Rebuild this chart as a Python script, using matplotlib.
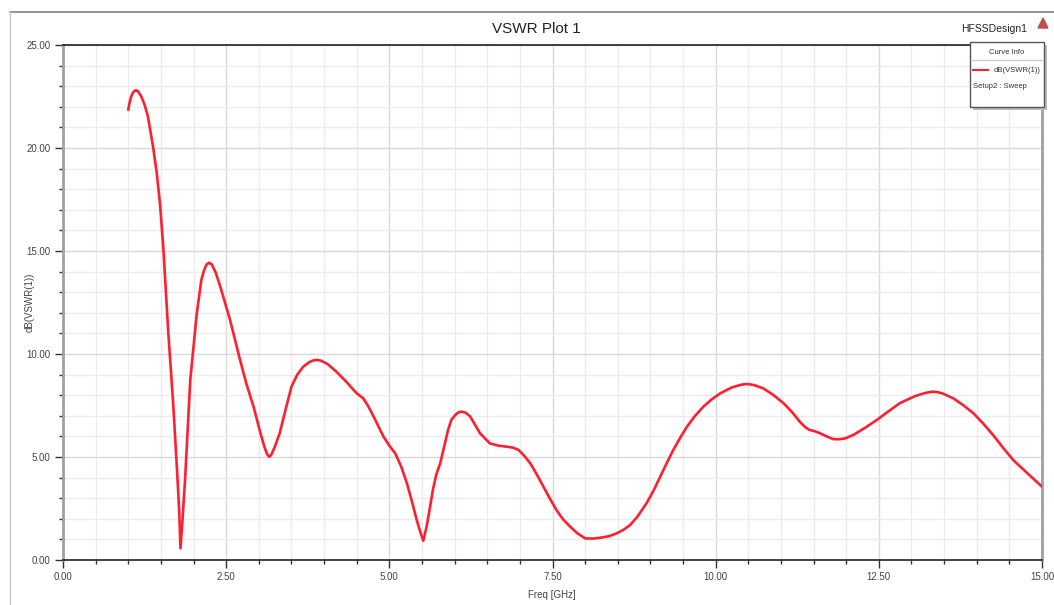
import matplotlib
matplotlib.use("Agg")
import matplotlib.pyplot as plt
from matplotlib.ticker import MultipleLocator, FormatStrFormatter
from matplotlib.patches import Rectangle, Polygon
from matplotlib.lines import Line2D

freq_ghz = [1.00, 1.02, 1.04, 1.07, 1.10, 1.12, 1.15, 1.20, 1.25, 1.30, 1.38, 1.44, 1.49, 1.54,
            1.61, 1.69, 1.75, 1.78, 1.80, 1.83, 1.87, 1.95, 2.05, 2.12, 2.16, 2.20, 2.24, 2.28,
            2.34, 2.41, 2.56, 2.70, 2.81, 2.92, 3.03, 3.09, 3.13, 3.16, 3.19, 3.24, 3.32, 3.41,
            3.50, 3.59, 3.68, 3.78, 3.84, 3.89, 3.95, 4.05, 4.19, 4.35, 4.50, 4.60, 4.68, 4.76,
            4.91, 5.00, 5.09, 5.18, 5.27, 5.35, 5.42, 5.48, 5.52, 5.57, 5.62, 5.67, 5.72, 5.78,
            5.84, 5.90, 5.95, 6.01, 6.06, 6.11, 6.17, 6.24, 6.39, 6.54, 6.67, 6.80, 6.90, 6.98,
            7.07, 7.16, 7.26, 7.36, 7.46, 7.56, 7.66, 7.77, 7.88, 8.00, 8.12, 8.23, 8.36, 8.48,
            8.59, 8.69, 8.80, 8.94, 9.05, 9.15, 9.25, 9.35, 9.46, 9.56, 9.68, 9.81, 9.94, 10.07,
            10.25, 10.38, 10.45, 10.52, 10.60, 10.73, 10.88, 11.04, 11.17, 11.29, 11.37, 11.44,
            11.52, 11.60, 11.70, 11.80, 11.88, 11.98, 12.11, 12.29, 12.47, 12.64, 12.82, 13.05,
            13.20, 13.31, 13.40, 13.48, 13.64, 13.80, 13.95, 14.10, 14.25, 14.40, 14.56, 14.78,
            15.00]
vswr_db = [21.85, 22.20, 22.45, 22.68, 22.78, 22.80, 22.75, 22.50, 22.10, 21.55, 20.06, 18.70, 17.15, 15.00,
           11.20, 7.50, 4.20, 2.40, 0.57, 1.90, 3.88, 8.74, 11.98, 13.60, 14.05, 14.35, 14.43, 14.35,
           13.95, 13.27, 11.65, 9.87, 8.55, 7.44, 6.10, 5.45, 5.12, 5.01, 5.10, 5.45, 6.15, 7.30,
           8.41, 9.00, 9.38, 9.62, 9.69, 9.71, 9.68, 9.52, 9.14, 8.62, 8.09, 7.85, 7.45, 6.96,
           5.99, 5.55, 5.18, 4.55, 3.72, 2.80, 1.94, 1.30, 0.94, 1.60, 2.50, 3.45, 4.15, 4.70,
           5.50, 6.31, 6.80, 7.04, 7.17, 7.20, 7.15, 6.96, 6.15, 5.66, 5.55, 5.50, 5.45, 5.34,
           5.05, 4.69, 4.15, 3.56, 2.98, 2.43, 1.98, 1.62, 1.30, 1.05, 1.04, 1.08, 1.15, 1.29,
           1.47, 1.70, 2.10, 2.75, 3.38, 4.04, 4.70, 5.34, 5.95, 6.47, 6.98, 7.44, 7.80, 8.09,
           8.38, 8.50, 8.54, 8.53, 8.48, 8.33, 8.02, 7.61, 7.18, 6.71, 6.45, 6.31, 6.25, 6.15,
           6.00, 5.87, 5.86, 5.90, 6.07, 6.42, 6.80, 7.20, 7.61, 7.95, 8.10, 8.17, 8.15, 8.08,
           7.85, 7.50, 7.12, 6.62, 6.07, 5.46, 4.85, 4.20, 3.56]

x_major = 2.5
y_major = 5.0

fig = plt.figure(figsize=(10.54, 6.05), dpi=100)
W, H = 1054, 605

def fx(px):
    return px / W

def fy(py):
    return 1 - py / H

narrow = ["Liberation Sans Narrow", "Liberation Sans", "DejaVu Sans"]

ax = fig.add_axes([fx(63), fy(560), fx(1042) - fx(63), fy(45) - fy(560)])

ax.plot(freq_ghz, vswr_db, color="#ff1f30", lw=1.9, solid_joinstyle="round",
        solid_capstyle="round", zorder=3)

ax.set_xlim(0, 15)
ax.set_ylim(0, 25)
ax.xaxis.set_major_locator(MultipleLocator(x_major))
ax.xaxis.set_minor_locator(MultipleLocator(0.5))
ax.yaxis.set_major_locator(MultipleLocator(y_major))
ax.yaxis.set_minor_locator(MultipleLocator(1.0))
ax.xaxis.set_major_formatter(FormatStrFormatter("%.2f"))
ax.yaxis.set_major_formatter(FormatStrFormatter("%.2f"))

ax.grid(which="major", color="#d9d9d9", lw=1.0, zorder=0)
ax.grid(which="minor", color="#ececec", lw=1.0, zorder=0)
ax.set_axisbelow(True)

ax.tick_params(which="major", direction="out", length=6, width=1, color="#333333",
               labelsize=7, labelcolor="#444444", pad=3)
ax.tick_params(which="minor", direction="out", length=3, width=1, color="#333333")

for s in ("top", "bottom"):
    ax.spines[s].set_color("#222222")
    ax.spines[s].set_linewidth(1.2)
for s in ("left", "right"):
    ax.spines[s].set_color("#a0a0a0")
    ax.spines[s].set_linewidth(2.0)

for lbl in ax.get_xticklabels() + ax.get_yticklabels():
    lbl.set_family(narrow)

fig.text(fx(552), fy(595), "Freq [GHz]", ha="center", va="center", fontsize=7,
         color="#444444", family=narrow)
fig.text(fx(30), fy(302), "dB(VSWR(1))", ha="center", va="center", fontsize=7,
         color="#444444", family=narrow, rotation=90)

# outer frame lines
fig.add_artist(Line2D([fx(10), 1.0], [fy(12), fy(12)], color="#808080", lw=1.2))
fig.add_artist(Line2D([fx(10), fx(10)], [fy(12), 0.0], color="#c8c8c8", lw=1.0))

fig.text(fx(536), fy(29), "VSWR Plot 1", ha="center", va="center", fontsize=11,
         color="#222222", family=["Liberation Sans", "DejaVu Sans"])
fig.text(fx(1027), fy(29), "HFSSDesign1", ha="right", va="center", fontsize=7.5,
         color="#222222", family=narrow)
fig.add_artist(Polygon([[fx(1038), fy(28)], [fx(1048), fy(28)], [fx(1043), fy(18)]],
                       closed=True, color="#c0504d", transform=fig.transFigure))

# legend box (Curve Info)
fig.add_artist(Rectangle((fx(973), fy(110)), fx(1047) - fx(973), fy(45) - fy(110),
                         transform=fig.transFigure, facecolor="#bbbbbb", edgecolor="none", zorder=5))
fig.add_artist(Rectangle((fx(970), fy(107)), fx(1044) - fx(970), fy(42) - fy(107),
                         transform=fig.transFigure, facecolor="white", edgecolor="#555555",
                         lw=1.0, zorder=6))
fig.add_artist(Line2D([fx(971), fx(1043)], [fy(60), fy(60)], color="#cccccc", lw=1.0, zorder=7))
fig.text(fx(1007), fy(52), "Curve Info", ha="center", va="center", fontsize=5.5, color="#333333",
         family=narrow, zorder=8)
fig.add_artist(Line2D([fx(973), fx(988)], [fy(70), fy(70)], color="#ff1f30", lw=1.5, zorder=8))
fig.text(fx(1041), fy(71), "dB(VSWR(1))", ha="right", va="center", fontsize=5.5, color="#333333",
         family=narrow, zorder=8)
fig.text(fx(973), fy(86), "Setup2 : Sweep", ha="left", va="center", fontsize=5.5, color="#333333",
         family=narrow, zorder=8)

fig.savefig("out.png", dpi=100, facecolor="white")
